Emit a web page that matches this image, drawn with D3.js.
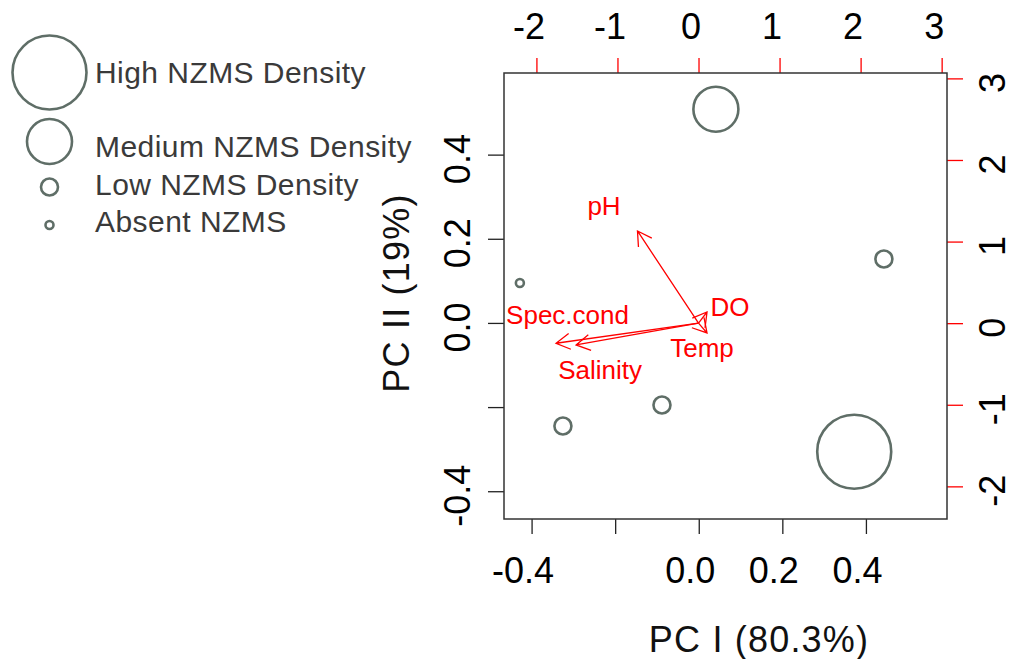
<!DOCTYPE html>
<html>
<head>
<meta charset="utf-8">
<script src="https://cdn.jsdelivr.net/npm/d3@7"></script>
<style>
  html, body { margin: 0; padding: 0; background: #ffffff; }
  svg { display: block; }
  text { font-family: "Liberation Sans", Arial, sans-serif; }
</style>
</head>
<body>
<svg id="chart" width="1013" height="659"></svg>
<script>
// ---- Site scores (PC I, PC II) and snail density class ----
const siteX = [0.041, 0.372, 0.443, -0.088, -0.325, -0.428];
const siteY = [0.508, -0.306, 0.152, -0.195, -0.245, 0.095];
const siteDensity = ["Medium", "High", "Low", "Low", "Low", "Absent"];

// ---- Density classes shown in the legend ----
const densityLevels = ["High", "Medium", "Low", "Absent"];
const densityLabels = ["High NZMS Density", "Medium NZMS Density", "Low NZMS Density", "Absent NZMS"];

// ---- Environmental variable loadings (arrow tips) and label anchors ----
const varNames = ["pH", "DO", "Temp", "Spec.cond", "Salinity"];
const varX = [-0.753, 0.105, 0.105, -1.758, -1.511];
const varY = [1.130, 0.137, -0.120, -0.246, -0.267];
const varLabelX = [-1.166, 0.389, 0.043, -1.616, -1.215];
const varLabelY = [1.440, 0.202, -0.297, 0.104, -0.570];

// ---- Axis ticks ----
const primaryTicks = [-0.4, -0.2, 0.0, 0.2, 0.4];
const primaryTickLabels = ["-0.4", "", "0.0", "0.2", "0.4"];
const secondaryTicks = [-2, -1, 0, 1, 2, 3];
const secondaryTickLabels = ["-2", "-1", "0", "1", "2", "3"];

// ---- Axis titles ----
const xTitle = "PC I (80.3%)";
const yTitle = "PC II (19%)";

// ---------------------------------------------------------------
const svg = d3.select("#chart");
const box = { left: 504, right: 947, top: 73, bottom: 519 };

// Both PCs share the same limits, as do both loading axes
const pLim = [-0.466, 0.594];
const sLim = [-2.40, 3.066];
const x = d3.scaleLinear().domain(pLim).range([box.left, box.right]);
const y = d3.scaleLinear().domain(pLim).range([box.bottom, box.top]);
const xs = d3.scaleLinear().domain(sLim).range([box.left, box.right]);
const ys = d3.scaleLinear().domain(sLim).range([box.bottom, box.top]);

const rScale = d3.scaleOrdinal().domain(densityLevels).range([37, 22.5, 8.5, 4]);
const ringColor = "#5f6e67";
const red = "#ff0000";
const tickFont = 36;

function styleAxis(g, color) {
  g.select(".domain").remove();
  g.selectAll(".tick line").attr("stroke", color).attr("stroke-width", 1.3);
  g.selectAll(".tick text").attr("fill", "#000").attr("font-size", tickFont)
    .attr("font-family", "'Liberation Sans', Arial, sans-serif");
}

// Bottom axis (PC I)
svg.append("g")
  .attr("transform", `translate(0,${box.bottom})`)
  .call(d3.axisBottom(x).tickValues(primaryTicks).tickSize(15).tickSizeOuter(0)
    .tickFormat((d, i) => primaryTickLabels[i]))
  .call(g => styleAxis(g, "#222"))
  .call(g => g.selectAll(".tick text").attr("y", 64).attr("dy", 0).attr("x", -9));

// Left axis (PC II), labels parallel to the axis
svg.append("g")
  .attr("transform", `translate(${box.left},0)`)
  .call(d3.axisLeft(y).tickValues(primaryTicks).tickSize(16).tickSizeOuter(0)
    .tickFormat((d, i) => primaryTickLabels[i]))
  .call(g => styleAxis(g, "#222"))
  .call(g => g.selectAll(".tick text")
    .attr("transform", "rotate(-90)")
    .attr("text-anchor", "middle")
    .attr("x", -4).attr("y", -34).attr("dy", 0));

// Top axis (loadings)
svg.append("g")
  .attr("transform", `translate(0,${box.top})`)
  .call(d3.axisTop(xs).tickValues(secondaryTicks).tickSize(15).tickSizeOuter(0)
    .tickFormat((d, i) => secondaryTickLabels[i]))
  .call(g => styleAxis(g, red))
  .call(g => g.selectAll(".tick text").attr("y", -34).attr("dy", 0).attr("x", -8));

// Right axis (loadings), labels parallel to the axis
svg.append("g")
  .attr("transform", `translate(${box.right},0)`)
  .call(d3.axisRight(ys).tickValues(secondaryTicks).tickSize(16).tickSizeOuter(0)
    .tickFormat((d, i) => secondaryTickLabels[i]))
  .call(g => styleAxis(g, red))
  .call(g => g.selectAll(".tick text")
    .attr("transform", "rotate(-90)")
    .attr("text-anchor", "middle")
    .attr("x", -4).attr("y", 58).attr("dy", 0));

// Plot frame
svg.append("rect")
  .attr("x", box.left).attr("y", box.top)
  .attr("width", box.right - box.left).attr("height", box.bottom - box.top)
  .attr("fill", "none").attr("stroke", "#333").attr("stroke-width", 1.5);

// Axis titles
svg.append("text")
  .attr("x", 759).attr("y", 652)
  .attr("text-anchor", "middle").attr("font-size", 36).attr("fill", "#111")
  .attr("letter-spacing", 1.2)
  .text(xTitle);
svg.append("text")
  .attr("transform", `translate(409,293) rotate(-90)`)
  .attr("text-anchor", "middle").attr("font-size", 36).attr("fill", "#111")
  .attr("letter-spacing", 1.2)
  .text(yTitle);

// Site bubbles
const sites = siteX.map((v, i) => ({ x: v, y: siteY[i], d: siteDensity[i] }));
svg.append("g").selectAll("circle")
  .data(sites).join("circle")
  .attr("cx", d => x(d.x)).attr("cy", d => y(d.y))
  .attr("r", d => rScale(d.d))
  .attr("fill", "none").attr("stroke", ringColor).attr("stroke-width", 2.6);

// Loading arrows with open heads
const vars = varNames.map((n, i) => ({ name: n, x: varX[i], y: varY[i], lx: varLabelX[i], ly: varLabelY[i] }));
const headLen = 16, headAng = Math.PI / 6;
const arrows = svg.append("g").attr("stroke", red).attr("stroke-width", 1.3).attr("fill", "none");
vars.forEach(v => {
  const x0 = xs(0), y0 = ys(0), x1 = xs(v.x), y1 = ys(v.y);
  const a = Math.atan2(y1 - y0, x1 - x0);
  const p = d3.path();
  p.moveTo(x0, y0); p.lineTo(x1, y1);
  p.moveTo(x1 - headLen * Math.cos(a - headAng), y1 - headLen * Math.sin(a - headAng));
  p.lineTo(x1, y1);
  p.lineTo(x1 - headLen * Math.cos(a + headAng), y1 - headLen * Math.sin(a + headAng));
  arrows.append("path").attr("d", p.toString());
});

// Variable labels
svg.append("g").selectAll("text")
  .data(vars).join("text")
  .attr("x", d => xs(d.lx)).attr("y", d => ys(d.ly))
  .attr("dy", "0.35em").attr("text-anchor", "middle")
  .attr("font-size", 26).attr("fill", red)
  .text(d => d.name);

// Legend
const legendRows = [
  { cy: 72.5, ty: 83.3 },
  { cy: 141.5, ty: 157.3 },
  { cy: 187, ty: 195 },
  { cy: 225, ty: 231.7 }
];
const legend = svg.append("g");
densityLevels.forEach((lv, i) => {
  legend.append("circle")
    .attr("cx", 49.5).attr("cy", legendRows[i].cy).attr("r", rScale(lv))
    .attr("fill", "none").attr("stroke", ringColor).attr("stroke-width", 2.6);
  legend.append("text")
    .attr("x", 95).attr("y", legendRows[i].ty)
    .attr("font-size", 30).attr("fill", "#3a3a3a")
    .attr("letter-spacing", 0.45)
    .text(densityLabels[i]);
});
</script>
</body>
</html>
